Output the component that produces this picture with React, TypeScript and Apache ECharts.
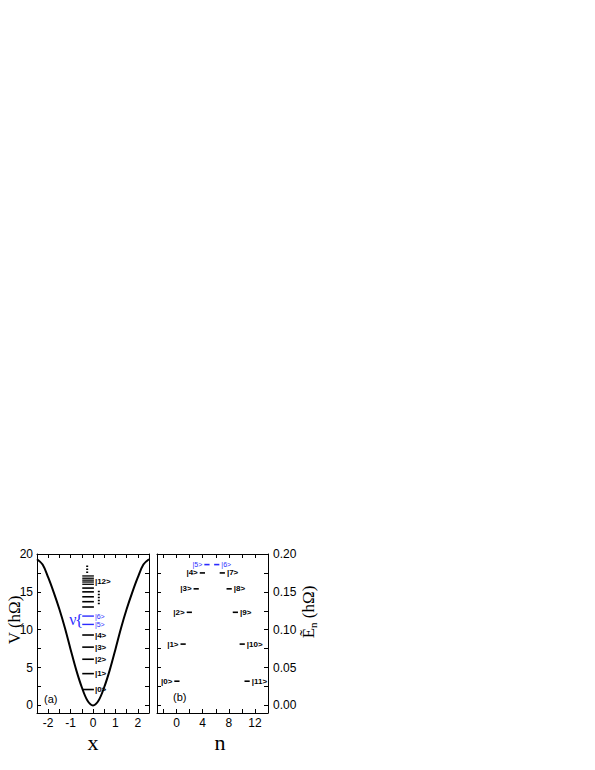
import React, { useEffect, useRef } from 'react';
import * as echarts from 'echarts';

// ---------- Panel (a): potential V(x) ----------
const curveX = [-2.5, -2.25, -2, -1.75, -1.5, -1.25, -1, -0.75, -0.5, -0.25, 0, 0.25, 0.5, 0.75, 1, 1.25, 1.5, 1.75, 2, 2.25, 2.5];
const curveV = [19.3, 18.6, 16.9, 14.9, 12.7, 10.2, 7.4, 4.7, 2.4, 0.65, 0, 0.65, 2.4, 4.7, 7.4, 10.2, 12.7, 14.9, 16.9, 18.6, 19.3];

const lowLevelV = [2.1, 4.2, 6.1, 7.7, 9.3];
const lowLevelLabels = ['|0>', '|1>', '|2>', '|3>', '|4>'];
const blueLevelV = [10.7, 11.8];
const blueLevelLabels = ['|5>', '|6>'];
const upperLevelV = [13.0, 13.7, 14.35, 15.0, 15.5, 16.0, 16.3, 16.55, 16.8, 17.1];
const topLevelLabel = '|12>';
const topLevelLabelV = 16.4;
const dotsLeftV = [17.5, 18.5];
const dotsRightV = [13.35, 15.3];

const xLabelsA = [-2, -1, 0, 1, 2];
const xTicksA = [-2.5, -2, -1.5, -1, -0.5, 0, 0.5, 1, 1.5, 2, 2.5];
const yLabelsA = [0, 5, 10, 15, 20];
const yTicksA = [0, 2.5, 5, 7.5, 10, 12.5, 15, 17.5, 20];

// ---------- Panel (b): quasi-energies ----------
const stateLabels = ['|0>', '|1>', '|2>', '|3>', '|4>', '|5>', '|6>', '|7>', '|8>', '|9>', '|10>', '|11>'];
const stateN = [0.05, 1, 1.95, 3, 3.95, 4.65, 6.15, 7, 8.05, 9, 10.05, 10.8];
const stateE = [0.032, 0.081, 0.123, 0.154, 0.175, 0.186, 0.186, 0.175, 0.154, 0.123, 0.081, 0.032];

const xLabelsB = [0, 4, 8, 12];
const xTicksB = [-2, 0, 2, 4, 6, 8, 10, 12, 14];
const yLabelsB = [0, 0.05, 0.1, 0.15, 0.2];
const yTicksB = [0, 0.025, 0.05, 0.075, 0.1, 0.125, 0.15, 0.175, 0.2];

const BLUE = '#2b2bff';
const SANS = '"Liberation Sans", Arial, sans-serif';
const SERIF = '"Liberation Serif", "Times New Roman", serif';

function txt(x: number, y: number, text: string, fill: string, font: string, align: string, valign: string, lineHeight?: number) {
  const style: any = { text, fill, font, align, textAlign: align, verticalAlign: valign, textVerticalAlign: valign };
  if (lineHeight) style.lineHeight = lineHeight;
  return { type: 'text', x, y, style };
}

export default function App() {
  const ref = useRef<HTMLDivElement>(null);

  useEffect(() => {
    if (!ref.current) return;
    const chart = echarts.init(ref.current, undefined, { renderer: 'svg' });

    const axisLine = { show: true, onZero: false, lineStyle: { color: '#000', width: 1 } };
    const tickStyle = { color: '#000', width: 1 };

    type Lvl = { v: number; label: string; color: string; width: number };
    const levelsA: Lvl[] = [];
    lowLevelV.forEach((v, i) => levelsA.push({ v, label: lowLevelLabels[i], color: '#000', width: 1.6 }));
    blueLevelV.forEach((v, i) => levelsA.push({ v, label: blueLevelLabels[i], color: BLUE, width: 1.4 }));
    upperLevelV.forEach((v, i) =>
      levelsA.push({ v, label: '', color: '#000', width: i >= 5 ? 1.3 : 1.6 })
    );
    const lvlX0 = -0.48;
    const lvlX1 = 0.04;

    const dotted = [
      { x: -0.26, v0: dotsLeftV[0], v1: dotsLeftV[1] },
      { x: 0.26, v0: dotsRightV[0], v1: dotsRightV[1] },
    ];

    const mkX = (grid: number, min: number, max: number, pos: string, ticks: number[], labels: number[] | null) => ({
      type: 'value', gridIndex: grid, min, max, position: pos,
      axisLine, splitLine: { show: false },
      axisTick: { show: true, inside: true, length: 4, lineStyle: tickStyle, customValues: ticks },
      axisLabel: labels
        ? { show: true, customValues: labels, color: '#000', fontSize: 12, lineHeight: 12, fontFamily: SANS, margin: 4 }
        : { show: false },
    });

    const option: any = {
      animation: false,
      grid: [
        { left: 37, top: 554, width: 112, height: 159 },
        { left: 157, top: 554, width: 111, height: 159 },
      ],
      xAxis: [
        mkX(0, -2.5, 2.5, 'bottom', xTicksA, xLabelsA),
        mkX(0, -2.5, 2.5, 'top', xTicksA, null),
        mkX(1, -3, 14, 'bottom', xTicksB, xLabelsB),
        mkX(1, -3, 14, 'top', xTicksB, null),
      ],
      yAxis: [
        mkX(0, -1, 20, 'left', yTicksA, yLabelsA),
        mkX(0, -1, 20, 'right', yTicksA, null),
        mkX(1, -0.01, 0.2, 'left', yTicksB, null),
        {
          ...mkX(1, -0.01, 0.2, 'right', yTicksB, yLabelsB),
          axisLabel: {
            show: true, customValues: yLabelsB, color: '#000', fontSize: 12, fontFamily: SANS, margin: 5,
            formatter: (v: number) => v.toFixed(2),
          },
        },
      ],
      series: [
        {
          type: 'line', xAxisIndex: 0, yAxisIndex: 0, smooth: 0.35, showSymbol: false,
          lineStyle: { color: '#000', width: 2 },
          data: curveX.map((x, i) => [x, curveV[i]]),
          z: 2,
        },
        {
          type: 'custom', xAxisIndex: 0, yAxisIndex: 0, clip: false, z: 3,
          data: levelsA.map((l) => [lvlX0, l.v]),
          renderItem: (params: any, api: any) => {
            const l = levelsA[params.dataIndex];
            const p0 = api.coord([lvlX0, l.v]);
            const p1 = api.coord([lvlX1, l.v]);
            const children: any[] = [
              { type: 'line', shape: { x1: p0[0], y1: p0[1], x2: p1[0], y2: p1[1] }, style: { stroke: l.color, lineWidth: l.width } },
            ];
            if (l.label) {
              const isBlue = l.color !== '#000';
              children.push(txt(p1[0] + 1, p1[1], l.label, l.color, (isBlue ? '7px ' : 'bold 8px ') + SANS, 'left', 'middle'));
            }
            return { type: 'group', children };
          },
        },
        {
          type: 'custom', xAxisIndex: 0, yAxisIndex: 0, clip: false, z: 3,
          data: [[lvlX1, topLevelLabelV]],
          renderItem: (params: any, api: any) => {
            const p = api.coord([lvlX1, topLevelLabelV]);
            return txt(p[0] + 1, p[1], topLevelLabel, '#000', 'bold 8px ' + SANS, 'left', 'middle');
          },
        },
        {
          type: 'custom', xAxisIndex: 0, yAxisIndex: 0, clip: false, z: 3,
          data: dotted.map((d) => [d.x, d.v0]),
          renderItem: (params: any, api: any) => {
            const d = dotted[params.dataIndex];
            const a = api.coord([d.x, d.v0]);
            const b = api.coord([d.x, d.v1]);
            return {
              type: 'line',
              shape: { x1: a[0], y1: a[1], x2: b[0], y2: b[1] },
              style: { stroke: '#000', lineWidth: 2, lineDash: [1.5, 1.5] },
            };
          },
        },
        {
          type: 'custom', xAxisIndex: 0, yAxisIndex: 0, clip: false, z: 3,
          data: [[-0.64, (blueLevelV[0] + blueLevelV[1]) / 2]],
          renderItem: (params: any, api: any) => {
            const mid = (blueLevelV[0] + blueLevelV[1]) / 2;
            const pb = api.coord([-0.62, mid]);
            const pn = api.coord([-0.9, mid]);
            return {
              type: 'group',
              children: [
                txt(pb[0], pb[1], '{', BLUE, '17px ' + SERIF, 'center', 'middle'),
                txt(pn[0], pn[1] - 1, 'ν', BLUE, '16px ' + SERIF, 'center', 'middle'),
              ],
            };
          },
        },
        {
          type: 'custom', xAxisIndex: 2, yAxisIndex: 3, clip: false, z: 3,
          data: stateN.map((n, i) => [n, stateE[i]]),
          renderItem: (params: any, api: any) => {
            const i = params.dataIndex;
            const n = stateN[i];
            const e = stateE[i];
            const isBlue = i === 5 || i === 6;
            const color = isBlue ? BLUE : '#000';
            const p0 = api.coord([n - 0.4, e]);
            const p1 = api.coord([n + 0.4, e]);
            const leftSide = i <= 5;
            const font = (isBlue ? '7px ' : 'bold 8px ') + SANS;
            return {
              type: 'group',
              children: [
                { type: 'line', shape: { x1: p0[0], y1: p0[1], x2: p1[0], y2: p1[1] }, style: { stroke: color, lineWidth: 1.6 } },
                leftSide
                  ? txt(p0[0] - 2, p0[1], stateLabels[i], color, font, 'right', 'middle')
                  : txt(p1[0] + 2, p1[1], stateLabels[i], color, font, 'left', 'middle'),
              ],
            };
          },
        },
      ],
      graphic: [
        txt(44, 699, '(a)', '#000', '11px ' + SANS, 'left', 'middle'),
        txt(173, 697, '(b)', '#000', '11px ' + SANS, 'left', 'middle'),
        txt(93, 742, 'x', '#000', '22px ' + SERIF, 'center', 'middle'),
        txt(220, 742, 'n', '#000', '22px ' + SERIF, 'center', 'middle'),
        {
          type: 'text', x: 14, y: 620, rotation: Math.PI / 2,
          style: { text: 'V (hΩ)', fill: '#000', font: '17px ' + SERIF, align: 'center', textAlign: 'center', verticalAlign: 'middle', textVerticalAlign: 'middle' },
        },
        {
          type: 'text', x: 308, y: 612, rotation: Math.PI / 2,
          style: {
            text: '{e|Ẽ}{s|n}{e| (hΩ)}',
            fill: '#000',
            align: 'center', textAlign: 'center', verticalAlign: 'middle', textVerticalAlign: 'middle',
            rich: {
              e: { fontSize: 17, fontFamily: SERIF, fill: '#000', color: '#000', lineHeight: 20 },
              s: { fontSize: 11, fontFamily: SERIF, fill: '#000', color: '#000', lineHeight: 20, verticalAlign: 'bottom', padding: [6, 0, 0, 0] },
            },
          },
        },
      ],
    };

    chart.setOption(option);
    return () => chart.dispose();
  }, []);

  return (
    <div
      ref={ref}
      style={{ position: 'absolute', left: 0, top: 0, width: 595, height: 770, background: '#fff' }}
    />
  );
}
